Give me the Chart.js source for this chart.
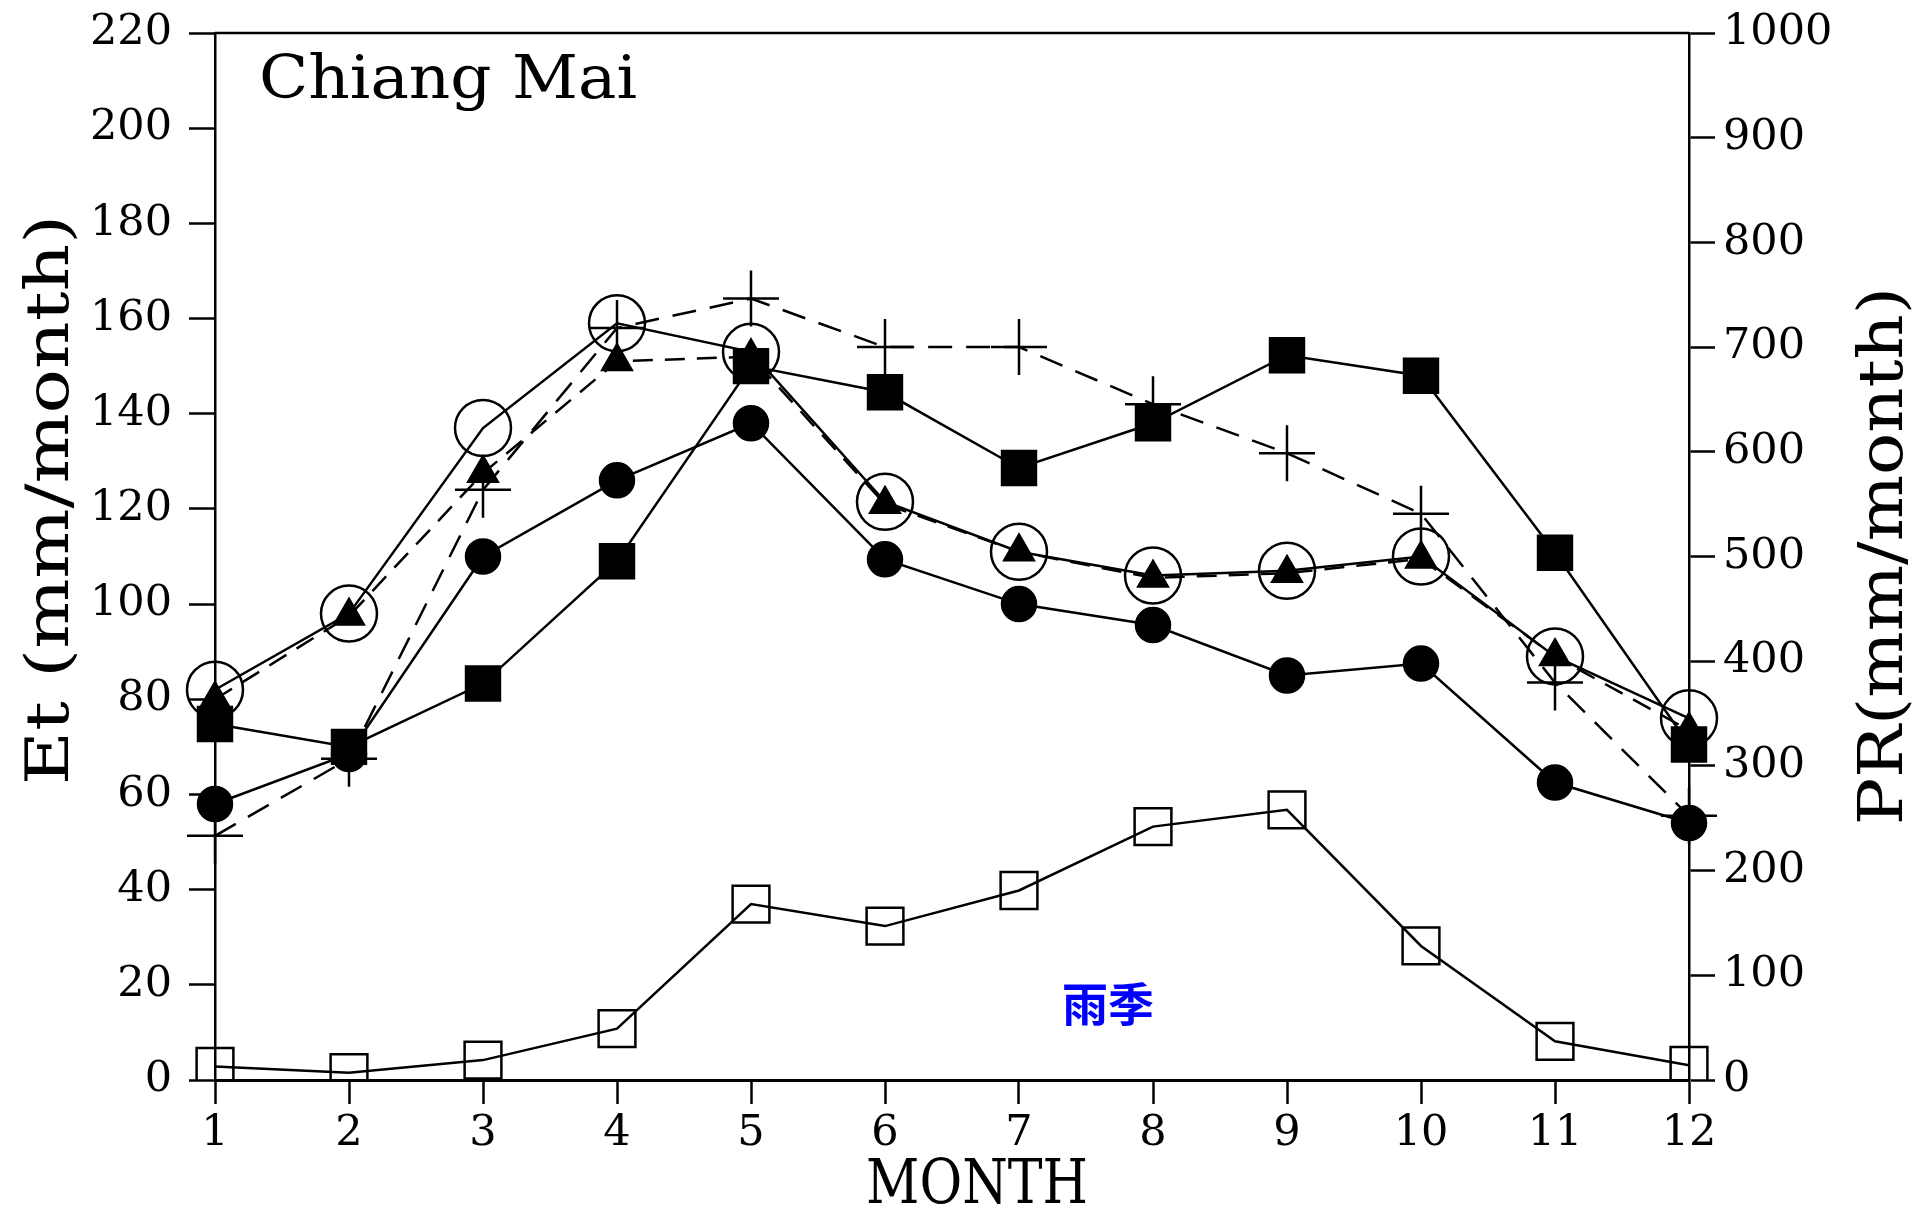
<!DOCTYPE html>
<html>
<head>
<meta charset="utf-8">
<script src="https://cdn.jsdelivr.net/npm/chart.js@4/dist/chart.umd.min.js"></script>
<style>
html,body{margin:0;padding:0;background:#fff;}
#wrap{width:1917px;height:1216px;position:relative;}
</style>
</head>
<body>
<div id="wrap"><canvas id="c" width="1917" height="1216"></canvas></div>
<script>
// ---- data ----
const months = ['1','2','3','4','5','6','7','8','9','10','11','12'];
const etOpenCircle  = [82, 98, 137, 159, 153, 121.5, 111, 106, 107, 110, 89, 76];
const etTriangle    = [80, 97.5, 127.5, 151, 152, 121, 111, 105.5, 106.5, 109.5, 89, 73.5];
const etPlus        = [51.3, 67.5, 124, 158, 164.2, 154, 154, 142, 131.7, 119, 83.5, 55.5];
const etFilledDot   = [58, 68.5, 110, 126, 138, 109.4, 100, 95.6, 85, 87.5, 62.5, 54];
const etFilledSq    = [74.8, 70, 83.3, 109, 150, 144.5, 128.6, 138, 152.3, 148, 110.8, 70.5];
const prOpenSq      = [13, 7, 19, 49, 168, 147, 181, 242, 258, 128, 37, 14];
const leftTicks  = {min: 0, max: 220, step: 20};
const rightTicks = {min: 0, max: 1000, step: 100};
const yTitle = 'Et (mm/month)';
const y2Title = 'PR(mm/month)';
const xTitle = 'MONTH';
const stationLabel = 'Chiang Mai';
const seasonLabel = '雨季';

const BLACK = '#000';
const LW = 2.5;

// draw text horizontally fitted to a target width
function fittedText(ctx, text, x, y, width, font, rot) {
  ctx.save();
  ctx.font = font;
  const w = ctx.measureText(text).width;
  ctx.translate(x, y);
  if (rot) ctx.rotate(rot);
  ctx.scale(width / w, 1);
  ctx.fillText(text, 0, 0);
  ctx.restore();
}

const textPlugin = {
  id: 'texts',
  afterDraw(chart) {
    const ctx = chart.ctx;
    const a = chart.chartArea;
    ctx.save();
    // top frame line
    ctx.strokeStyle = BLACK;
    ctx.lineWidth = LW;
    ctx.beginPath();
    ctx.moveTo(a.left, a.top);
    ctx.lineTo(a.right, a.top);
    ctx.stroke();

    ctx.fillStyle = BLACK;
    ctx.textBaseline = 'alphabetic';
    // station label
    ctx.textAlign = 'left';
    fittedText(ctx, stationLabel, 259, 98, 378, '59px "DejaVu Serif"', 0);

    // titles
    ctx.textAlign = 'center';
    fittedText(ctx, xTitle, 977, 1203, 222, '61px "DejaVu Serif"', 0);
    fittedText(ctx, yTitle, 68, 500, 570, '60px "DejaVu Serif"', -Math.PI / 2);
    fittedText(ctx, y2Title, 1902, 556, 538, '61px "DejaVu Serif"', -Math.PI / 2);

    // season label
    ctx.fillStyle = '#0000ff';
    ctx.font = 'bold 46px "Noto Sans CJK SC"';
    ctx.textAlign = 'center';
    ctx.textBaseline = 'middle';
    ctx.fillText(seasonLabel, 1108, 1004);
    ctx.restore();
  }
};

function ds(label, data, opts) {
  return Object.assign({
    label: label,
    data: data,
    yAxisID: 'y',
    borderColor: BLACK,
    borderWidth: LW,
    pointBorderColor: BLACK,
    pointBorderWidth: LW,
    tension: 0,
    fill: false,
  }, opts);
}

const datasets = [
  ds('open circle', etOpenCircle, {pointStyle: 'circle', pointRadius: 28, pointBackgroundColor: 'rgba(0,0,0,0)'}),
  ds('triangle', etTriangle, {pointStyle: 'triangle', pointRadius: 17, pointBackgroundColor: BLACK, borderDash: [20, 12]}),
  ds('plus', etPlus, {pointStyle: 'cross', pointRadius: 28, pointBackgroundColor: BLACK, borderDash: [24, 14]}),
  ds('filled circle', etFilledDot, {pointStyle: 'circle', pointRadius: 17, pointBackgroundColor: BLACK}),
  ds('filled square', etFilledSq, {pointStyle: 'rect', pointRadius: 24, pointBackgroundColor: BLACK}),
  ds('PR', prOpenSq, {yAxisID: 'y2', pointStyle: 'rect', pointRadius: 26, pointBackgroundColor: 'rgba(0,0,0,0)'}),
];

const tickFont = {family: 'DejaVu Serif', size: 43};
const plain = v => String(v);

new Chart(document.getElementById('c'), {
  type: 'line',
  data: {labels: months, datasets: datasets},
  plugins: [textPlugin],
  options: {
    responsive: false,
    animation: false,
    devicePixelRatio: 1,
    layout: {padding: {top: 33, left: 0, right: 0, bottom: 0}},
    plugins: {legend: {display: false}, tooltip: {enabled: false}},
    scales: {
      x: {
        type: 'category',
        offset: false,
        grid: {drawOnChartArea: false, drawTicks: true, tickLength: 24, tickWidth: LW, tickColor: BLACK},
        border: {display: true, color: BLACK, width: 3},
        ticks: {font: tickFont, color: BLACK, padding: 4, maxRotation: 0, autoSkip: false},
        afterFit(s) { s.height = 136; s.paddingLeft = 0; s.paddingRight = 0; }
      },
      y: {
        position: 'left',
        min: leftTicks.min, max: leftTicks.max,
        grid: {drawOnChartArea: false, drawTicks: true, tickLength: 26, tickWidth: LW, tickColor: BLACK},
        border: {display: true, color: BLACK, width: LW},
        ticks: {stepSize: leftTicks.step, font: tickFont, color: BLACK, padding: 17, callback: plain},
        afterFit(s) { s.width = 215; s.paddingTop = 0; s.paddingBottom = 0; }
      },
      y2: {
        position: 'right',
        min: rightTicks.min, max: rightTicks.max,
        grid: {drawOnChartArea: false, drawTicks: true, tickLength: 26, tickWidth: LW, tickColor: BLACK},
        border: {display: true, color: BLACK, width: LW},
        ticks: {stepSize: rightTicks.step, font: tickFont, color: BLACK, padding: 8, callback: plain},
        afterFit(s) { s.width = 228; s.paddingTop = 0; s.paddingBottom = 0; }
      }
    }
  }
});
</script>
</body>
</html>
